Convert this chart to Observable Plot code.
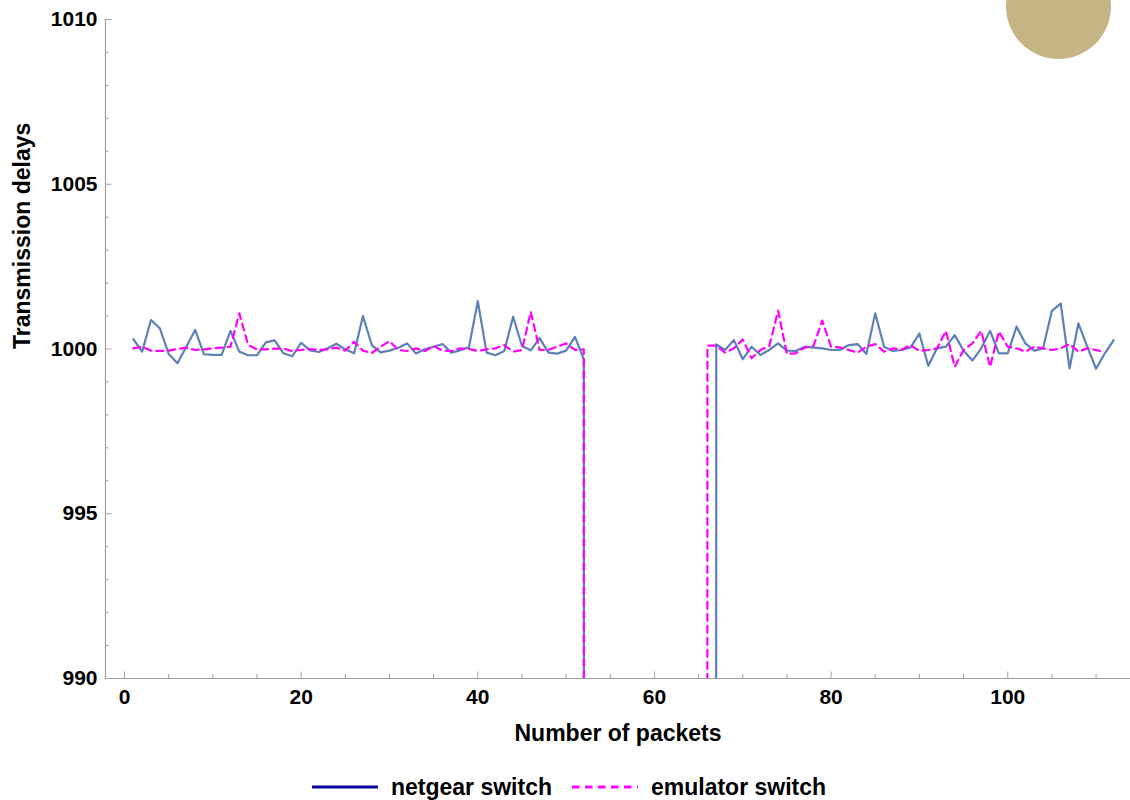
<!DOCTYPE html>
<html>
<head>
<meta charset="utf-8">
<script src="https://cdn.jsdelivr.net/npm/d3@7"></script>
<script src="https://cdn.jsdelivr.net/npm/@observablehq/plot@0.6"></script>
<style>
  html, body { margin: 0; padding: 0; background: #fff; }
  body { width: 1130px; height: 800px; position: relative; overflow: hidden; font-family: "Liberation Sans", Arial, sans-serif; }
  #chart svg { display: block; }
  #legend { display: flex; justify-content: center; align-items: center; height: 40px; padding-top: 14px; padding-left: 8px; box-sizing: border-box; font-weight: bold; font-size: 23px; color: #000; }
  .item { display: flex; align-items: center; }
  .item svg { margin-right: 13px; }
  .item + .item { margin-left: 20px; }
  #sun { position: absolute; left: 1006px; top: -46px; width: 105px; height: 105px; border-radius: 50%; background: #c6b584; }
</style>
</head>
<body>
<div id="chart"></div>
<div id="legend"></div>
<div id="sun"></div>
<script>
// ---- data ----
const seriesNames = ["netgear switch", "emulator switch"];
const seriesColors = ["#5e81b5", "#ff00ff"];
const legendColors = ["#0a0a9c", "#ff00ff"];

// netgear switch: packets 1..112 (0 = packets 53..66 dropped below the axis)
const netgear = [
  1000.30, 999.92, 1000.88, 1000.63, 999.85, 999.57, 1000.07, 1000.58, 999.84, 999.82,
  999.82, 1000.55, 999.92, 999.81, 999.81, 1000.20, 1000.26, 999.87, 999.78, 1000.19,
  999.96, 999.91, 1000.02, 1000.16, 999.99, 999.87, 1001.00, 1000.12, 999.90, 999.95,
  1000.04, 1000.17, 999.86, 999.99, 1000.07, 1000.15, 999.89, 999.96, 1000.05, 1001.45,
  999.89, 999.81, 999.94, 1000.98, 1000.09, 999.96, 1000.33, 999.89, 999.86, 999.95,
  1000.37, 999.69,
  0, 0, 0, 0, 0, 0, 0, 0, 0, 0, 0, 0, 0, 0,
  1000.14, 999.97, 1000.27, 999.69, 1000.07, 999.82, 999.97, 1000.17, 999.95, 999.94,
  1000.07, 1000.04, 1000.02, 999.97, 999.97, 1000.12, 1000.15, 999.85, 1001.08, 1000.07,
  999.94, 999.97, 1000.05, 1000.47, 999.49, 1000.02, 1000.07, 1000.42, 999.95, 999.65,
  1000.02, 1000.55, 999.87, 999.87, 1000.68, 1000.17, 999.95, 1000.02, 1001.16, 1001.38,
  999.41, 1000.78, 1000.07, 999.40, 999.87, 1000.27
];

// emulator switch: packets 1..111 (0 = packets 53..65 dropped below the axis)
const emulator = [
  1000.02, 1000.07, 999.95, 999.94, 999.95, 1000.00, 1000.04, 999.97, 999.99, 1000.02,
  1000.04, 1000.07, 1001.08, 1000.12, 999.99, 999.99, 1000.01, 1000.01, 999.94, 999.97,
  1000.00, 999.97, 999.99, 1000.04, 999.95, 1000.22, 999.95, 999.88, 1000.07, 1000.24,
  999.97, 999.94, 1000.02, 999.94, 1000.09, 999.95, 999.94, 1000.02, 1000.00, 999.94,
  999.99, 1000.02, 1000.12, 999.92, 999.97, 1001.13, 999.97, 999.97, 1000.07, 1000.17,
  999.97, 999.99,
  0, 0, 0, 0, 0, 0, 0, 0, 0, 0, 0, 0, 0,
  1000.10, 1000.10, 999.89, 1000.02, 1000.29, 999.72, 999.97, 1000.09, 1001.16, 999.85,
  999.87, 1000.04, 1000.09, 1000.86, 1000.07, 1000.05, 999.97, 999.89, 1000.07, 1000.15,
  999.92, 1000.02, 999.98, 1000.12, 999.94, 999.97, 1000.02, 1000.55, 999.46, 999.97,
  1000.17, 1000.55, 999.46, 1000.53, 1000.07, 1000.02, 999.92, 1000.07, 1000.02, 999.97,
  1000.02, 1000.15, 999.92, 1000.02, 999.97, 999.90
];

const xTicks = [0, 20, 40, 60, 80, 100];
const xMinorTicks = [5, 10, 15, 25, 30, 35, 45, 50, 55, 65, 70, 75, 85, 90, 95, 105, 110];
const yTicks = [990, 995, 1000, 1005, 1010];
const yMinorTicks = [991, 992, 993, 994, 996, 997, 998, 999, 1001, 1002, 1003, 1004, 1006, 1007, 1008, 1009];
const xDomain = [-2.15, 113.9];
const yDomain = [990, 1010];
const xLabel = "Number of packets";
const yLabel = "Transmission delays";

// ---- chart ----
const axisGray = "#a0a0a0";
const font = "'Liberation Sans', Arial, sans-serif";
const plain = d => String(d);

const chart = Plot.plot({
  width: 1130,
  height: 760,
  marginTop: 19,
  marginLeft: 105,
  marginRight: 0,
  marginBottom: 82,
  style: { fontFamily: font, fontWeight: "bold", color: "#000", background: "#fff", overflow: "visible" },
  x: { domain: xDomain, axis: null },
  y: { domain: yDomain, axis: null },
  marks: [
    Plot.frame({ anchor: "left", stroke: axisGray, strokeWidth: 1.2 }),
    Plot.frame({ anchor: "bottom", stroke: axisGray, strokeWidth: 1.2 }),
    // y axis: labels, major and minor ticks (inward)
    Plot.axisY(yTicks, { tickSize: 0, tickPadding: 8, fontSize: 21, fontWeight: "bold", label: null, tickFormat: plain }),
    Plot.axisY(yTicks, { tickSize: 6.5, dx: 6.5, tickFormat: () => "", label: null, stroke: axisGray }),
    Plot.axisY(yMinorTicks, { tickSize: 3.5, dx: 3.5, tickFormat: () => "", label: null, stroke: axisGray }),
    // x axis
    Plot.axisX(xTicks, { tickSize: 0, tickPadding: 11, fontSize: 21, fontWeight: "bold", label: null, tickFormat: plain }),
    Plot.axisX(xTicks, { tickSize: 6.5, dy: -6.5, tickFormat: () => "", label: null, stroke: axisGray }),
    Plot.axisX(xMinorTicks, { tickSize: 4, dy: -4, tickFormat: () => "", label: null, stroke: axisGray }),
    // series
    Plot.line(netgear, { x: (d, i) => i + 1, y: d => d, stroke: seriesColors[0], strokeWidth: 2.2, clip: true }),
    Plot.line(emulator, { x: (d, i) => i + 1, y: d => d, stroke: seriesColors[1], strokeWidth: 2.2, strokeDasharray: "7,5", clip: true }),
    // axis titles
    Plot.text([xLabel], { frameAnchor: "bottom", dy: 62, fontSize: 23, fontWeight: "bold", fill: "#000" }),
    Plot.text([yLabel], { frameAnchor: "left", rotate: -90, dx: -83, fontSize: 23, fontWeight: "bold", fill: "#000" })
  ]
});
document.getElementById("chart").appendChild(chart);

// ---- legend ----
const legend = document.getElementById("legend");
seriesNames.forEach((name, i) => {
  const item = document.createElement("div");
  item.className = "item";
  const dash = i === 1 ? ' stroke-dasharray="7.5,5.5"' : "";
  item.innerHTML = `<svg width="66" height="8"><line x1="0" y1="4" x2="66" y2="4" stroke="${legendColors[i]}" stroke-width="3"${dash}/></svg><span>${name}</span>`;
  legend.appendChild(item);
});
</script>
</body>
</html>
